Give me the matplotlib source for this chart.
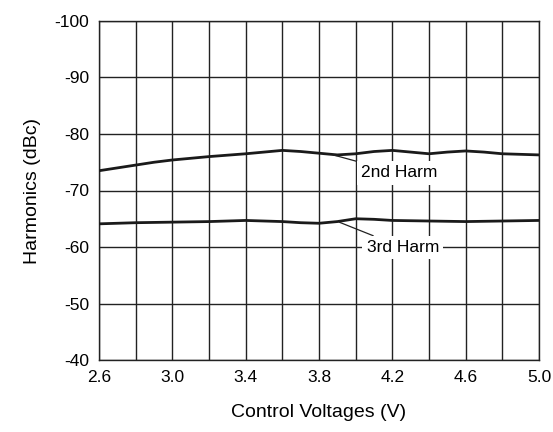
import numpy as np
import matplotlib.pyplot as plt
from matplotlib.ticker import MultipleLocator

# data
volts2 = [2.6, 2.7, 2.8, 2.9, 3.0, 3.2, 3.4, 3.5, 3.6, 3.7, 3.8, 3.9, 4.0, 4.1, 4.2, 4.3, 4.4, 4.5, 4.6, 4.7, 4.8, 4.9, 5.0]
harm2 = [-73.5, -74.0, -74.5, -75.0, -75.4, -76.0, -76.5, -76.8, -77.1, -76.9, -76.6, -76.3, -76.5, -76.9, -77.1, -76.8, -76.5, -76.8, -77.0, -76.8, -76.5, -76.4, -76.3]

volts3 = [2.6, 2.8, 3.0, 3.2, 3.4, 3.6, 3.7, 3.8, 3.9, 4.0, 4.1, 4.2, 4.4, 4.6, 4.8, 5.0]
harm3 = [-64.1, -64.3, -64.4, -64.5, -64.7, -64.5, -64.3, -64.2, -64.5, -65.0, -64.9, -64.7, -64.6, -64.5, -64.6, -64.7]

xticks = [2.6, 3.0, 3.4, 3.8, 4.2, 4.6, 5.0]
xticklabels = ['2.6', '3.0', '3.4', '3.8', '4.2', '4.6', '5.0']
yticks = [-100, -90, -80, -70, -60, -50, -40]

plt.rcParams['font.family'] = ['Liberation Sans', 'DejaVu Sans']
plt.rcParams['axes.unicode_minus'] = False

fig = plt.figure(figsize=(5.53, 4.32), dpi=100)
ax = fig.add_axes([99/553, 72/432, 440/553, 339/432])

ax.plot(volts2, harm2, color='#1a1a1a', lw=2.0, zorder=3)
ax.plot(volts3, harm3, color='#1a1a1a', lw=2.0, zorder=3)

ax.set_xlim(2.6, 5.0)
ax.set_ylim(-40, -100)
ax.xaxis.set_minor_locator(MultipleLocator(0.2))
ax.set_xticks(xticks)
ax.set_xticklabels(xticklabels)
ax.set_yticks(yticks)
ax.grid(True, which='both', color='#222222', lw=1.0)
ax.tick_params(which='both', length=0, labelsize=12.5, pad=7)
for s in ax.spines.values():
    s.set_color('#222222')
    s.set_linewidth(1.0)

box = dict(boxstyle='square,pad=0.25', fc='white', ec='none')
ax.annotate('2nd Harm', xy=(3.877, -76.3), xytext=(4.03, -73.1),
            fontsize=12.5, va='center', ha='left', bbox=box, zorder=4,
            arrowprops=dict(arrowstyle='-', color='#222222', lw=0.9, shrinkA=0, shrinkB=0))
ax.annotate('3rd Harm', xy=(3.91, -64.4), xytext=(4.06, -59.9),
            fontsize=12.5, va='center', ha='left', bbox=box, zorder=4,
            arrowprops=dict(arrowstyle='-', color='#222222', lw=0.9, shrinkA=0, shrinkB=0))

ax.set_xlabel('Control Voltages (V)', fontsize=14, labelpad=14)
ax.set_ylabel('Harmonics (dBc)', fontsize=14, labelpad=10)

fig.savefig('out.png', dpi=100)
